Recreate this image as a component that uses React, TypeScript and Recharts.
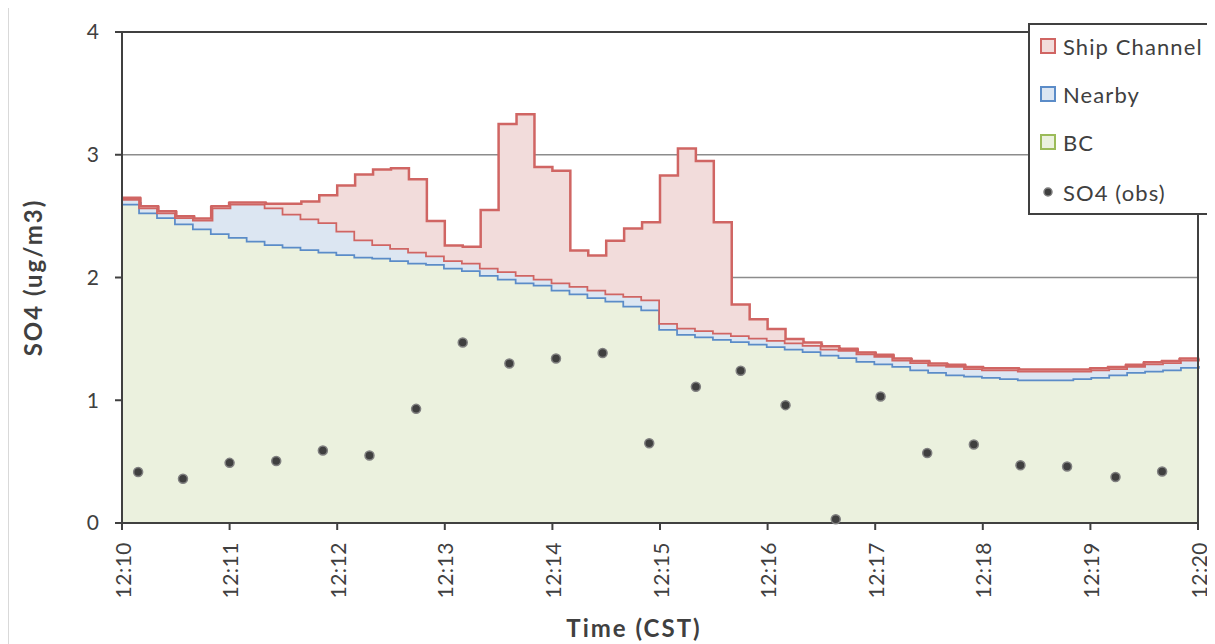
import {
  ComposedChart, Area, Scatter, XAxis, YAxis, CartesianGrid, ReferenceLine, Legend, Label,
} from 'recharts'

// seconds after 12:10:00
const TIMES = [
  0, 10, 20, 30, 40, 50, 60, 70, 80, 90, 100, 110, 120, 130, 140, 150, 160, 170, 180, 190,
  200, 210, 220, 230, 240, 250, 260, 270, 280, 290, 300, 310, 320, 330, 340, 350, 360, 370, 380, 390,
  400, 410, 420, 430, 440, 450, 460, 470, 480, 490, 500, 510, 520, 530, 540, 550, 560, 570, 580, 590, 600,
]

const BC = [
  2.60, 2.53, 2.49, 2.44, 2.40, 2.36, 2.33, 2.30, 2.27, 2.25, 2.23, 2.21, 2.19, 2.17, 2.16, 2.14, 2.12, 2.11, 2.08, 2.06,
  2.02, 1.99, 1.96, 1.94, 1.90, 1.87, 1.84, 1.81, 1.77, 1.74, 1.58, 1.54, 1.52, 1.50, 1.48, 1.46, 1.44, 1.42, 1.40, 1.37,
  1.35, 1.32, 1.30, 1.28, 1.25, 1.23, 1.21, 1.20, 1.19, 1.18, 1.17, 1.17, 1.17, 1.18, 1.19, 1.21, 1.23, 1.24, 1.25, 1.27, 1.28,
]

const NEARBY = [
  0.04, 0.04, 0.04, 0.05, 0.07, 0.21, 0.27, 0.30, 0.30, 0.27, 0.25, 0.24, 0.19, 0.14, 0.11, 0.10, 0.09, 0.07, 0.06, 0.06,
  0.06, 0.06, 0.06, 0.05, 0.06, 0.06, 0.06, 0.06, 0.08, 0.08, 0.05, 0.05, 0.05, 0.05, 0.05, 0.05, 0.05, 0.05, 0.05, 0.05,
  0.06, 0.06, 0.06, 0.05, 0.06, 0.06, 0.07, 0.06, 0.06, 0.07, 0.07, 0.07, 0.07, 0.06, 0.06, 0.05, 0.05, 0.06, 0.06, 0.06, 0.06,
]

const SHIP = [
  0.01, 0.01, 0.01, 0.01, 0.01, 0.01, 0.01, 0.01, 0.03, 0.08, 0.14, 0.22, 0.37, 0.53, 0.61, 0.65, 0.59, 0.28, 0.12, 0.13,
  0.47, 1.20, 1.31, 0.91, 0.91, 0.29, 0.28, 0.43, 0.55, 0.63, 1.20, 1.46, 1.38, 0.90, 0.25, 0.15, 0.09, 0.03, 0.02, 0.02,
  0.01, 0.01, 0.01, 0.01, 0.01, 0.01, 0.01, 0.01, 0.01, 0.01, 0.01, 0.01, 0.01, 0.01, 0.01, 0.01, 0.01, 0.01, 0.01, 0.01, 0.01,
]

const OBS_TIMES = [9, 34, 60, 86, 112, 138, 164, 190, 216, 242, 268, 294, 320, 345, 370, 398, 423, 449, 475, 501, 527, 554, 580]
const OBS = [0.415, 0.36, 0.49, 0.505, 0.59, 0.55, 0.93, 1.47, 1.30, 1.34, 1.385, 0.65, 1.11, 1.24, 0.96, 0.03, 1.03, 0.57, 0.64, 0.47, 0.46, 0.375, 0.42]

const X_TICKS = [0, 60, 120, 180, 240, 300, 360, 420, 480, 540, 600]
const Y_TICKS = [0, 1, 2, 3, 4]

const data = TIMES.map((t, i) => ({ t, bc: BC[i], nearby: NEARBY[i], ship: SHIP[i] }))
const obsData = OBS_TIMES.map((t, i) => ({ t, obs: OBS[i] }))

const fmtTime = (s: number) => `12:${10 + Math.round(s / 60)}`

const TEXT = '#404040'
const FONT = 'Lato, "Liberation Sans", sans-serif'

const XTick = ({ x, y, payload }: any) => (
  <text x={x} y={y} transform={`rotate(-90 ${x} ${y})`} textAnchor="end" dominantBaseline="central"
    fill={TEXT} fontSize={21} letterSpacing={0.5}>
    {fmtTime(payload.value)}
  </text>
)

const ObsDot = ({ cx, cy }: any) => (
  <circle cx={cx} cy={cy} r={4.5} fill="#3f3f3f" stroke="#808080" strokeWidth={1.5} />
)

const LEGEND_ITEMS = [
  { label: 'Ship Channel', fill: '#f2dcdb', stroke: '#d06563' },
  { label: 'Nearby', fill: '#dce6f2', stroke: '#5b8cc8' },
  { label: 'BC', fill: '#ebf1de', stroke: '#9bbb59' },
]

const renderLegend = () => (
  <svg width={186} height={192} style={{ display: 'block', fontFamily: FONT }}>
    <rect x={1} y={1} width={184} height={190} fill="#fff" stroke={TEXT} strokeWidth={2} />
    {LEGEND_ITEMS.map((it, i) => (
      <g key={it.label}>
        <rect x={13} y={16 + i * 48} width={14} height={14} fill={it.fill} stroke={it.stroke} strokeWidth={2} />
        <text x={35} y={23 + i * 48} dominantBaseline="central" fontSize={22} letterSpacing={1.1} fill={TEXT}>{it.label}</text>
      </g>
    ))}
    <circle cx={20} cy={169} r={4} fill="#3f3f3f" stroke="#808080" strokeWidth={1.5} />
    <text x={35} y={169} dominantBaseline="central" fontSize={22} letterSpacing={1.1} fill={TEXT}>SO4 (obs)</text>
  </svg>
)

export default function App() {
  return (
    <div style={{
      position: 'relative', width: 1215, height: 640, marginTop: -2, boxSizing: 'border-box',
      border: '1px solid #d9d9d9', background: '#fff', fontFamily: FONT,
    }}>
      <ComposedChart width={1207} height={636} data={data}
        margin={{ top: 25, right: 18, left: 0, bottom: 0 }}>
        <CartesianGrid vertical={false} horizontalValues={[1, 2, 3]} stroke="#8c8c8c" strokeWidth={1.5} />
        <XAxis dataKey="t" type="number" domain={[0, 600]} ticks={X_TICKS} height={120}
          axisLine={{ stroke: TEXT, strokeWidth: 2 }} tickLine={{ stroke: TEXT, strokeWidth: 2 }}
          tickSize={7} tickMargin={12} tick={<XTick />} interval={0}>
          <Label content={({ viewBox }: any) => (
            <text x={viewBox.x + viewBox.width / 2 - 26} y={viewBox.y + 104} textAnchor="middle"
              dominantBaseline="central" fontSize={24} letterSpacing={2} fontWeight={700} fill={TEXT}>Time (CST)</text>
          )} />
        </XAxis>
        <YAxis type="number" domain={[0, 4]} ticks={Y_TICKS} width={113} interval={0}
          axisLine={{ stroke: TEXT, strokeWidth: 2 }} tickLine={{ stroke: TEXT, strokeWidth: 2 }}
          tickSize={7} tickMargin={16} tick={{ fill: TEXT, fontSize: 21 }}>
          <Label content={({ viewBox }: any) => {
            const cx = 23
            const cy = viewBox.y + viewBox.height / 2
            return (
              <text x={cx} y={cy} transform={`rotate(-90 ${cx} ${cy})`} textAnchor="middle"
                dominantBaseline="central" fontSize={24} letterSpacing={2} fontWeight={700} fill={TEXT}>SO4 (ug/m3)</text>
            )
          }} />
        </YAxis>
        <Area type="stepAfter" dataKey="bc" stackId="s" fill="#ebf1de" fillOpacity={1}
          stroke="#5b8cc8" strokeWidth={3.5} isAnimationActive={false} />
        <Area type="stepAfter" dataKey="nearby" stackId="s" fill="#dce6f2" fillOpacity={1}
          stroke="#d06563" strokeWidth={3.5} isAnimationActive={false} />
        <Area type="stepAfter" dataKey="ship" stackId="s" fill="#f2dcdb" fillOpacity={1}
          stroke="#d06563" strokeWidth={2.5} isAnimationActive={false} />
        <ReferenceLine y={4} stroke={TEXT} strokeWidth={2} />
        <ReferenceLine x={600} stroke={TEXT} strokeWidth={2} />
        <Scatter data={obsData} dataKey="obs" shape={<ObsDot />} isAnimationActive={false} />
        <Legend layout="vertical" align="center" verticalAlign="middle" content={renderLegend}
          wrapperStyle={{ left: 1019, top: 16, width: 186, height: 192 }} />
      </ComposedChart>
    </div>
  )
}
